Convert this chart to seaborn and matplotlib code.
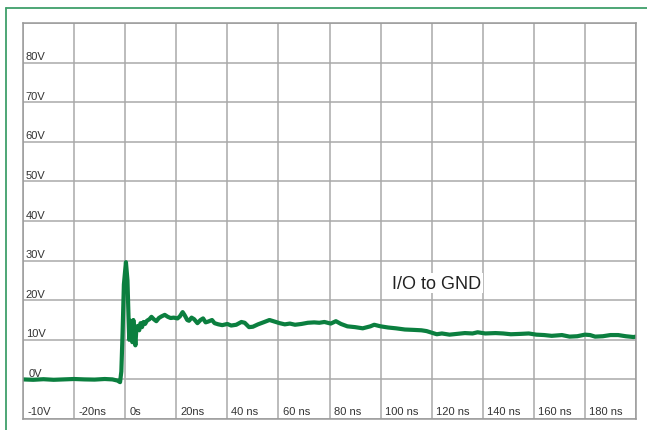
import seaborn as sns
import matplotlib.pyplot as plt
from matplotlib.lines import Line2D

# trace (time in ns, voltage in V)
time_ns = [-40, -36, -32, -28, -24, -20, -16, -12, -8, -5, -3, -2, -1.5, -1, -0.5,
           0.3, 0.9, 1.3, 1.6, 2.0, 2.4, 2.8, 3.2, 3.6, 4.0, 4.4, 4.9, 5.5, 6.0,
           6.6, 7.2, 7.8, 8.5, 9.5, 10.3, 11.2, 12.2, 13.2, 14.2, 15.5, 16.7,
           17.8, 19.0, 20.5, 21.4, 22.5, 23.3, 24.3, 25.0, 26.0, 27.0, 28.3,
           29.5, 30.5, 31.5, 32.5, 34.0, 35.0, 36.5, 38, 40, 41.5, 43.5, 45.5,
           46.8, 48.5, 50, 52, 54.5, 56.5, 58.5, 60.5, 62.5, 64.5, 66.5, 69,
           71.5, 74, 76, 78, 80.5, 82.5, 84.5, 87, 90, 93, 96, 97.5, 100, 103,
           106, 109.5, 113, 116, 118, 120, 122, 124, 127, 130, 133, 136, 138,
           141, 145, 148, 151, 155, 158, 161, 164, 167, 171, 174, 177, 180,
           182, 184, 187, 190, 193, 196, 199, 200]
volts = [0.0, -0.1, 0.05, -0.1, 0.0, 0.1, 0.0, -0.05, 0.1, 0.0, -0.3, -0.7, 2, 12, 24,
         29.6, 25, 16, 10, 14.8, 11, 9.4, 15, 12, 8.6, 13, 13.5, 12.4, 14.2,
         13.2, 14.5, 14.0, 14.8, 15.2, 15.8, 15.2, 14.7, 15.5, 15.9, 16.3, 15.8,
         15.5, 15.6, 15.4, 15.9, 17.0, 16.2, 15.0, 14.8, 15.6, 15.2, 14.2,
         15.0, 15.4, 14.4, 14.6, 15.0, 14.2, 13.9, 13.7, 14.0, 13.6, 13.8, 14.5,
         14.3, 13.2, 13.3, 13.9, 14.5, 15.0, 14.6, 14.2, 13.9, 14.1, 13.8, 14.0,
         14.3, 14.4, 14.3, 14.5, 14.1, 14.7, 14.0, 13.4, 13.2, 12.9, 13.4, 13.8, 13.4, 13.1,
         12.9, 12.6, 12.5, 12.4, 12.2, 11.8, 11.4, 11.6, 11.3, 11.5, 11.7, 11.6, 11.9,
         11.6, 11.7, 11.6, 11.4, 11.5, 11.6, 11.3, 11.2, 11.0, 11.2, 10.8, 10.9, 11.3,
         11.2, 10.8, 10.9, 11.2, 11.2, 10.9, 10.7, 10.8]

x_ticks = [-40, -20, 0, 20, 40, 60, 80, 100, 120, 140, 160, 180]
x_labels = ['-10V', '-20ns', '0s', '20ns', '40 ns', '60 ns', '80 ns', '100 ns',
            '120 ns', '140 ns', '160 ns', '180 ns']
y_ticks = [0, 10, 20, 30, 40, 50, 60, 70, 80]
y_labels = ['0V', '10V', '20V', '30V', '40V', '50V', '60V', '70V', '80V']

sns.set_style('white')
plt.rcParams['font.family'] = ['Liberation Sans', 'DejaVu Sans']

fig = plt.figure(figsize=(6.47, 4.31), dpi=100)
ax = fig.add_axes([23 / 647, 11 / 431, 613 / 647, 396 / 431])

sns.lineplot(x=time_ns, y=volts, color='#0b7f3f', linewidth=3.0, ax=ax)

ax.set_xlim(-40, 200)
ax.set_ylim(-10, 90)
ax.set_xticks(range(-40, 201, 20))
ax.set_yticks(range(-10, 91, 10))
ax.grid(True, color='#a9a9a9', linewidth=1.1)
ax.tick_params(labelbottom=False, labelleft=False, length=0)
for s in ax.spines.values():
    s.set_color('#9a9a9a')
    s.set_linewidth(1.1)

# labels sit inside the grid, just right of / above each line
for xt, lab in zip(x_ticks, x_labels):
    ax.annotate(lab, (xt, -10), xytext=(3, 2), textcoords='offset points',
                fontsize=8, color='#333333', ha='left', va='bottom')
for yt, lab in zip(y_ticks, y_labels):
    ax.annotate(lab, (-40, yt), xytext=(2 if yt else 4, 1), textcoords='offset points',
                fontsize=8, color='#333333', ha='left', va='bottom')

ax.text(122, 24.3, 'I/O to GND', fontsize=13, color='#222222', ha='center', va='center',
        bbox=dict(facecolor='white', edgecolor='none', pad=1))

# green frame of the figure panel
fig.add_artist(Line2D([6 / 647, 6 / 647], [0, 1 - 9 / 431], color='#3f9f6a', lw=1.3))
fig.add_artist(Line2D([6 / 647, 1], [1 - 9 / 431, 1 - 9 / 431], color='#3f9f6a', lw=1.3))

fig.savefig('out.png', dpi=100)
